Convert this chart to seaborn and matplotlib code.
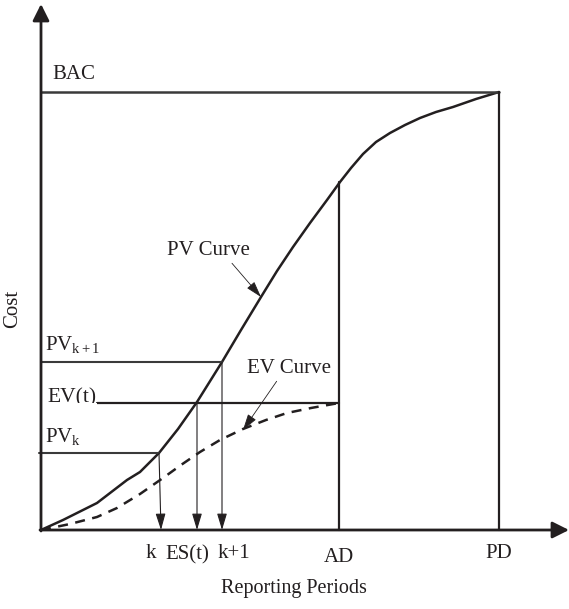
import numpy as np
import pandas as pd
import matplotlib
matplotlib.use("Agg")
import matplotlib.pyplot as plt
from matplotlib.patches import Rectangle
import seaborn as sns

# ---- data (arbitrary period / cost units) ----
pv_x = [0, 22, 56, 86, 99, 118, 137, 156, 181, 200, 220, 236, 252, 269, 286, 299, 310,
        322, 335, 349, 364, 379, 395, 412, 435, 458]
pv_y = [0, 10, 27, 50, 58, 77, 101, 128, 168, 200, 233, 259, 283, 307, 330, 348, 362,
        376, 388, 397, 405, 412, 418, 423, 431, 438]
ev_x = [0, 29, 56, 76, 99, 122, 140, 159, 179, 202, 225, 246, 270, 298]
ev_y = [0, 6, 13, 22, 36, 52, 65, 78, 90, 101, 110, 117, 122, 127]

bac = 438
pv_k1 = 168
ev_t = 127
pv_k = 77
k_x, es_x, k1_x = 118, 156, 181
ad_x, pd_x = 298, 458
ad_top = 348

x_tick_labels = ["k", "ES(t)", "k+1", "AD", "PD"]
y_labels = ["BAC", r"PV$_{\mathrm{k+1}}$", "EV(t)", r"PV$_{\mathrm{k}}$"]

sns.set_style("white")
plt.rcParams["font.family"] = ["Liberation Serif", "DejaVu Serif"]
plt.rcParams["mathtext.fontset"] = "custom"
plt.rcParams["mathtext.rm"] = "Liberation Serif"
plt.rcParams["mathtext.it"] = "Liberation Serif"

fig = plt.figure(figsize=(5.69, 6.09), dpi=100)
ax = fig.add_axes([0, 0, 1, 1])
ax.set_xlim(-41, 528)
ax.set_ylim(-79, 530)
ax.axis("off")

ink = "#231f20"
grey = "#3a3a3a"

pv = pd.DataFrame({"x": pv_x, "y": pv_y})
ev = pd.DataFrame({"x": ev_x, "y": ev_y})
sns.lineplot(data=pv, x="x", y="y", ax=ax, color=ink, lw=1.8, sort=False, estimator=None)
sns.lineplot(data=ev, x="x", y="y", ax=ax, color=ink, lw=1.8, sort=False, estimator=None,
             linestyle=(0, (4, 3)))

# axes with arrows
ax.annotate("", xy=(0, 526), xytext=(0, -1),
            arrowprops=dict(arrowstyle="-|>,head_length=1.0,head_width=0.5", mutation_scale=10,
                            color=ink, lw=2, shrinkA=0, shrinkB=0))
ax.annotate("", xy=(528, 0), xytext=(-1, 0),
            arrowprops=dict(arrowstyle="-|>,head_length=1.0,head_width=0.5", mutation_scale=10,
                            color=ink, lw=2, shrinkA=0, shrinkB=0))

# horizontal reference lines
ax.plot([0, pd_x], [bac, bac], color=grey, lw=1.8)
ax.plot([0, k1_x], [pv_k1, pv_k1], color=grey, lw=1.5)
ax.plot([56, ad_x], [ev_t, ev_t], color=ink, lw=1.6)
ax.plot([-2, k_x], [pv_k, pv_k], color=grey, lw=1.5)

# vertical lines
ax.plot([ad_x, ad_x], [0, ad_top], color=ink, lw=1.6)
ax.plot([pd_x, pd_x], [0, bac], color=ink, lw=1.6)

# down arrows
small = dict(arrowstyle="-|>,head_length=1.0,head_width=0.3", mutation_scale=10,
             color=ink, lw=0.8, shrinkA=0, shrinkB=0)
ax.annotate("", xy=(k_x + 2, 0), xytext=(k_x, pv_k), arrowprops=small)
ax.annotate("", xy=(es_x, 0), xytext=(es_x, ev_t), arrowprops=small)
ax.annotate("", xy=(k1_x, 0), xytext=(k1_x, pv_k1), arrowprops=small)

# curve annotations
ax.annotate("PV Curve", xy=(220, 233), xytext=(126, 275), fontsize=15, color=ink,
            ha="left", va="baseline",
            arrowprops=dict(arrowstyle="-|>,head_length=1.0,head_width=0.3", mutation_scale=10,
                            color=ink, lw=0.6, shrinkA=0, shrinkB=0, relpos=(0.75, 0)))
ax.annotate("EV Curve", xy=(202, 100), xytext=(206, 157), fontsize=15, color=ink,
            ha="left", va="baseline",
            arrowprops=dict(arrowstyle="-|>,head_length=1.0,head_width=0.3", mutation_scale=10,
                            color=ink, lw=0.6, shrinkA=0, shrinkB=0, relpos=(0.38, 0)))

# y labels
fs = 15
ax.text(11, 451, y_labels[0], fontsize=fs, color=ink, ha="left", va="baseline")
ax.text(4, 180, y_labels[1], fontsize=fs, color=ink, ha="left", va="baseline")
ax.text(6, ev_t + 1, y_labels[2], fontsize=15.5, color=ink, ha="left", va="baseline", zorder=3)
ax.add_patch(Rectangle((2, 110), 54, ev_t - 110, facecolor="white", edgecolor="none", zorder=4))
ax.text(4, 88, y_labels[3], fontsize=fs, color=ink, ha="left", va="baseline")

# x labels
ax.text(110, -28, x_tick_labels[0], fontsize=fs, color=ink, ha="center", va="baseline")
ax.text(146, -29, x_tick_labels[1], fontsize=fs, color=ink, ha="center", va="baseline")
ax.text(193, -28, x_tick_labels[2], fontsize=fs, color=ink, ha="center", va="baseline")
ax.text(ad_x, -32, x_tick_labels[3], fontsize=fs, color=ink, ha="center", va="baseline")
ax.text(pd_x, -28, x_tick_labels[4], fontsize=fs, color=ink, ha="center", va="baseline")

ax.text(253, -63, "Reporting Periods", fontsize=14.5, color=ink, ha="center", va="baseline")
ax.text(-28, 221, "Cost", fontsize=fs, color=ink, ha="center", va="center", rotation=90)

fig.savefig("out.png", dpi=100)
